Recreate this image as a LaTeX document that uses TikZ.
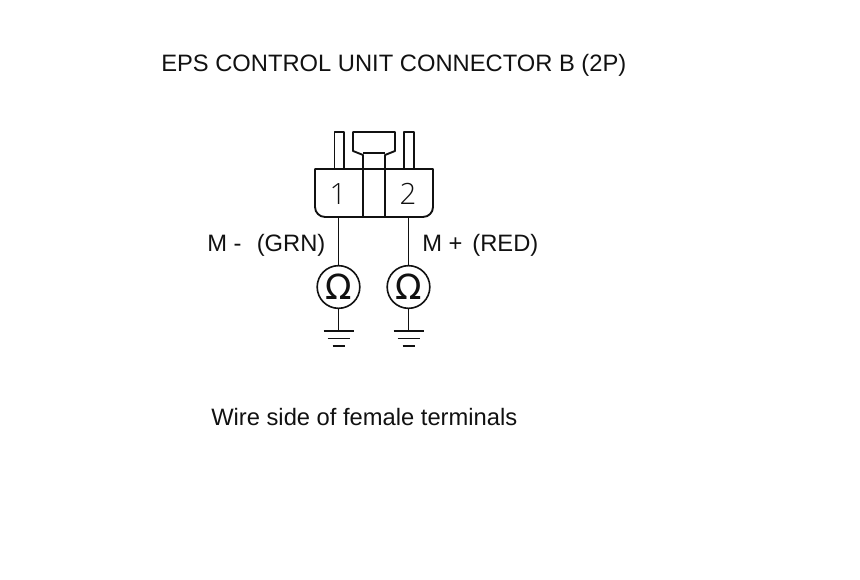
\documentclass[tikz,border=0pt]{standalone}
\usepackage{fontspec}
\setmainfont{Liberation Sans}
\newfontfamily\thinfont[UprightFont=* Light]{Open Sans}
\newfontfamily\ohmfont{DejaVu Sans}
\usepackage{xcolor}
\usetikzlibrary{calc}
\definecolor{ink}{HTML}{111111}
\tikzset{
  base/.style={draw=ink, line width=1.4pt, line join=round},
  wire/.style={draw=ink, line width=1.2pt},
  lab/.style={text=ink, font=\fontsize{17.8}{20}\selectfont, anchor=base west, inner sep=0pt},
  pinnum/.style={text=ink, font=\fontsize{22}{25}\selectfont\thinfont, inner sep=0pt},
  meter/.style={circle, draw=ink, line width=1.2pt, minimum size=32pt, inner sep=0pt,
    font=\fontsize{26}{26}\selectfont\ohmfont, text=ink},
}

\begin{document}
\begin{tikzpicture}[x=0.75pt,y=-0.75pt]
  \useasboundingbox (0,0) rectangle (860,580);
  \node[lab] (title) at (161,72) {EPS CONTROL UNIT CONNECTOR B (2P)};
  \node[lab] (caption) at (211,426) {Wire side of female terminals};
  \node[lab] (mneg) at (207,252) {M -\hspace{6.5pt} (GRN)};
  \node[lab] (mpos) at (422,252) {M +\hspace{2.5pt} (RED)};
  % connector body
  \draw[base] (315,169) -- (433,169) {[rounded corners=7.5pt] -- (433,217) -- (315,217)} -- cycle;
  \draw[base] (334.5,169) -- (334.5,132) -- (344,132) -- (344,169);
  \draw[base] (404,169) -- (404,132) -- (414,132) -- (414,169);
  % latch
  \draw[base] (363,217) -- (363,155) -- (353,151) -- (353,132) -- (395,132) -- (395,151) -- (385,155) -- (385,217);
  \draw[base] (363,153) -- (385,153);
  \node[pinnum] (pin1) at (338,194) {1};
  \node[pinnum] (pin2) at (408,194) {2};
  \foreach \n/\x in {1/338.5,2/408.5} {
    \coordinate (w\n) at (\x,217);
    \node[meter] (ohm\n) at (\x,287) {Ω};
    \coordinate (g\n) at (\x,331);
    \draw[wire] (w\n) -- (ohm\n);
    \draw[wire] (ohm\n) -- (g\n);
    \draw[base] ($(g\n)+(-15,0)$) -- ($(g\n)+(15,0)$);
    \draw[wire] ($(g\n)+(-11,7.5)$) -- ($(g\n)+(11,7.5)$);
    \draw[wire] ($(g\n)+(-6,15)$) -- ($(g\n)+(6,15)$);
  }
\end{tikzpicture}
\end{document}
